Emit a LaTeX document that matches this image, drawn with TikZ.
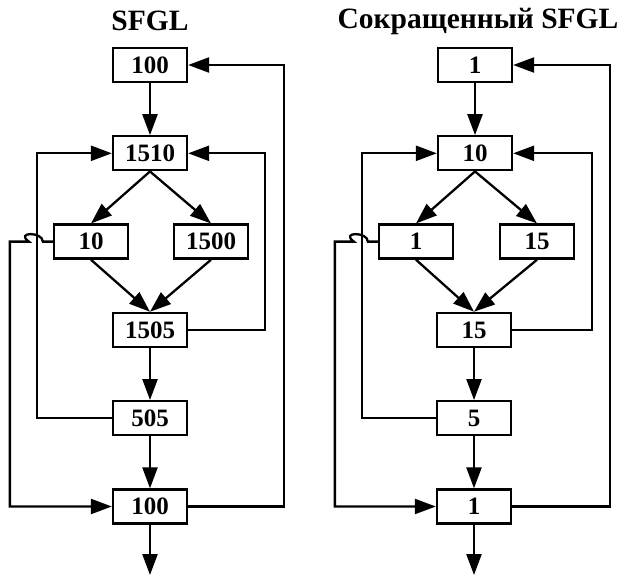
\documentclass[tikz,border=0pt]{standalone}
\usepackage{fontspec}
\setmainfont{Liberation Serif}
\usetikzlibrary{positioning, arrows.meta}

\begin{document}
\begin{tikzpicture}[
  x=1pt, y=-1pt,
  font=\bfseries\fontsize{25}{25}\selectfont,
  node distance=52pt,
  box/.style={rectangle, draw, line width=2.3pt, minimum width=74pt,
    minimum height=34pt, inner sep=0pt, align=center},
  ttl/.style={font=\bfseries\fontsize{29.5}{29.5}\selectfont, inner sep=0pt},
  arr/.style={-{Triangle[length=21pt, width=15pt]}, line width=2.3pt}
]
\useasboundingbox (0,0) rectangle (621,575);

% left: SFGL
\node[ttl] (ltitle) at (150,21) {SFGL};
\node[box] (lin) at (150,65) {100};
\node[box, below=of lin] (lsum) {1510};
\node[box, below=of lsum, xshift=-59pt] (lbr1) {10};
\node[box, below=of lsum, xshift=61pt] (lbr2) {1500};
\node[box, below=of lbr1, xshift=59pt] (ljoin) {1505};
\node[box, below=of ljoin] (lsub) {505};
\node[box, below=of lsub] (lout) {100};
\coordinate (lend) at (150,575);

\draw[arr] (lin) -- (lsum);
\draw[arr] (lsum.south) -- (lbr1.north);
\draw[arr] (lsum.south) -- (lbr2.north);
\draw[arr] (lbr1.south) -- (ljoin.north);
\draw[arr] (lbr2.south) -- (ljoin.north);
\draw[arr] (ljoin) -- (lsub);
\draw[arr] (lsub) -- (lout);
\draw[arr] (lout) -- (lend);
\draw[arr] (ljoin.east) -- ++(77,0) |- (lsum.east);
\draw[arr] (lsub.west) -- ++(-75,0) |- (lsum.west);
\draw[arr] (lout.east) -- ++(96,0) |- (lin.east);
\draw[arr] (lbr1.west) -- ++(-10,0) .. controls ++(0,-10) and ++(-14,-10) .. ++(-14,0)
  -- ++(-19,0) |- (lout.west);

% right: reduced SFGL
\node[ttl] (rtitle) at (478,21) {Сокращенный SFGL};
\node[box] (rin) at (475,65) {1};
\node[box, below=of rin] (rsum) {10};
\node[box, below=of rsum, xshift=-59pt] (rbr1) {1};
\node[box, below=of rsum, xshift=62pt] (rbr2) {15};
\node[box, below=of rbr1, xshift=58pt] (rjoin) {15};
\node[box, below=of rjoin] (rsub) {5};
\node[box, below=of rsub] (rout) {1};
\coordinate (rend) at (474,575);

\draw[arr] (rin) -- (rsum);
\draw[arr] (rsum.south) -- (rbr1.north);
\draw[arr] (rsum.south) -- (rbr2.north);
\draw[arr] (rbr1.south) -- (rjoin.north);
\draw[arr] (rbr2.south) -- (rjoin.north);
\draw[arr] (rjoin) -- (rsub);
\draw[arr] (rsub) -- (rout);
\draw[arr] (rout) -- (rend);
\draw[arr] (rjoin.east) -- ++(80,0) |- (rsum.east);
\draw[arr] (rsub.west) -- ++(-74,0) |- (rsum.west);
\draw[arr] (rout.east) -- ++(98,0) |- (rin.east);
\draw[arr] (rbr1.west) -- ++(-10,0) .. controls ++(0,-10) and ++(-14,-10) .. ++(-14,0)
  -- ++(-19,0) |- (rout.west);
\end{tikzpicture}
\end{document}
